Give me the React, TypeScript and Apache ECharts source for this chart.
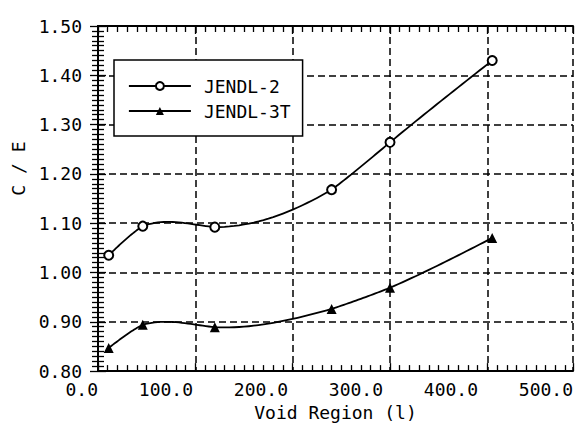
import React, { useEffect, useRef } from "react";
import * as echarts from "echarts";

// Void region volume (litres) at each measured point
const voidRegion = [11, 46, 120, 240, 300, 405];
// C/E values
const jendl2 = [1.035, 1.094, 1.092, 1.168, 1.264, 1.43];
const jendl3t = [0.847, 0.894, 0.889, 0.926, 0.969, 1.07];
const seriesNames = ["JENDL-2", "JENDL-3T"];

const FONT = "DejaVu Sans Mono";
const BLACK = "#000";
const FS = 18;
const TENSION = 0.7; // 1 = natural cubic spline, 0 = straight segments

// Cubic spline (natural, slightly tensioned) through pixel points, sampled for drawing
function splinePath(pts: number[][], steps = 24): number[][] {
  const n = pts.length;
  if (n < 3) return pts;
  const x = pts.map((p) => p[0]);
  const y = pts.map((p) => p[1]);
  const h: number[] = [];
  for (let i = 0; i < n - 1; i++) h.push(x[i + 1] - x[i]);
  const m = n - 2;
  const a: number[] = [], b: number[] = [], c: number[] = [], d: number[] = [];
  for (let i = 1; i <= m; i++) {
    a.push(h[i - 1]);
    b.push(2 * (h[i - 1] + h[i]));
    c.push(h[i]);
    d.push(6 * ((y[i + 1] - y[i]) / h[i] - (y[i] - y[i - 1]) / h[i - 1]));
  }
  for (let i = 1; i < m; i++) {
    const w = a[i] / b[i - 1];
    b[i] -= w * c[i - 1];
    d[i] -= w * d[i - 1];
  }
  const Mi: number[] = new Array(m).fill(0);
  Mi[m - 1] = d[m - 1] / b[m - 1];
  for (let i = m - 2; i >= 0; i--) Mi[i] = (d[i] - c[i] * Mi[i + 1]) / b[i];
  const M = [0, ...Mi, 0].map((v) => v * TENSION);
  const out: number[][] = [];
  for (let i = 0; i < n - 1; i++) {
    for (let s = 0; s < steps; s++) {
      const t = x[i] + (h[i] * s) / steps;
      const A = x[i + 1] - t;
      const B = t - x[i];
      const v =
        (M[i] * A * A * A) / (6 * h[i]) +
        (M[i + 1] * B * B * B) / (6 * h[i]) +
        (y[i] / h[i] - (M[i] * h[i]) / 6) * A +
        (y[i + 1] / h[i] - (M[i + 1] * h[i]) / 6) * B;
      out.push([t, v]);
    }
  }
  out.push([x[n - 1], y[n - 1]]);
  return out;
}

function curveSeries(values: number[]) {
  return {
    type: "custom",
    coordinateSystem: "cartesian2d",
    xAxisIndex: 0,
    yAxisIndex: 0,
    silent: true,
    z: 4,
    data: voidRegion.map((x, i) => [x, values[i]]),
    encode: { x: 0, y: 1 },
    renderItem: (params: any, api: any) => {
      if (params.dataIndex !== 0) return null;
      const px = voidRegion.map((x, i) => api.coord([x, values[i]]));
      return {
        type: "polyline",
        shape: { points: splinePath(px) },
        style: { stroke: BLACK, lineWidth: 1.8, fill: null },
      };
    },
  };
}

export default function App() {
  const ref = useRef<HTMLDivElement>(null);
  useEffect(() => {
    if (!ref.current) return;
    const chart = echarts.init(ref.current, undefined, { renderer: "svg" });
    const frameLine = { show: true, lineStyle: { color: BLACK, width: 2 } };
    const tick = { show: true, inside: true, length: 8, lineStyle: { color: BLACK, width: 1.3 } };
    const minor = { show: true, splitNumber: 10, length: 6, lineStyle: { color: BLACK, width: 1.3 } };
    const dashed = { show: true, lineStyle: { color: BLACK, width: 1.5, type: [7, 4] as any } };
    const option: any = {
      animation: false,
      backgroundColor: "#fff",
      grid: { left: 98, top: 26, right: 7, bottom: 45, containLabel: false },
      legend: {
        left: 114,
        top: 60,
        orient: "vertical",
        data: seriesNames,
        backgroundColor: "#fff",
        borderColor: BLACK,
        borderWidth: 1.5,
        borderRadius: 0,
        padding: [17, 12, 16, 14],
        itemWidth: 62,
        itemHeight: 10,
        itemGap: 7,
        lineStyle: { color: BLACK, width: 1.8, opacity: 1 },
        textStyle: { fontFamily: FONT, fontSize: FS, color: BLACK, lineHeight: 16, padding: [0, 0, 0, 8] },
      },
      xAxis: [
        {
          type: "value",
          position: "bottom",
          min: 0,
          max: 488,
          interval: 100,
          axisLine: frameLine,
          axisTick: tick,
          minorTick: minor,
          splitLine: dashed,
          axisLabel: { show: false },
        },
        {
          type: "value",
          position: "bottom",
          min: 0,
          max: 500,
          interval: 100,
          axisLine: { show: false },
          axisTick: { show: false },
          splitLine: { show: false },
          axisLabel: {
            show: true,
            align: "right",
            margin: 10,
            fontFamily: FONT,
            fontSize: FS,
            lineHeight: 16,
            color: BLACK,
            formatter: (v: number) => v.toFixed(1),
          },
          name: "Void Region (l)",
          nameLocation: "middle",
          nameGap: 31,
          nameTextStyle: { fontFamily: FONT, fontSize: FS, lineHeight: 18, color: BLACK },
        },
        {
          type: "value",
          position: "top",
          min: 0,
          max: 488,
          interval: 100,
          axisLine: frameLine,
          axisTick: tick,
          minorTick: minor,
          splitLine: { show: false },
          axisLabel: { show: false },
        },
      ],
      yAxis: [
        {
          type: "value",
          position: "left",
          min: 0.8,
          max: 1.5,
          interval: 0.1,
          axisLine: frameLine,
          axisTick: tick,
          minorTick: minor,
          splitLine: dashed,
          axisLabel: {
            show: true,
            margin: 16,
            fontFamily: FONT,
            fontSize: FS,
            lineHeight: 16,
            padding: [0, 0, 8, 0],
            color: BLACK,
            formatter: (v: number) => v.toFixed(2),
          },
          name: "C / E",
          nameLocation: "middle",
          nameGap: 66,
          nameTextStyle: { fontFamily: FONT, fontSize: FS, lineHeight: 18, color: BLACK, padding: [0, 0, 0, 60] },
        },
        {
          type: "value",
          position: "right",
          min: 0.8,
          max: 1.5,
          interval: 0.1,
          axisLine: frameLine,
          axisTick: tick,
          minorTick: minor,
          splitLine: { show: false },
          axisLabel: { show: false },
        },
      ],
      series: [
        curveSeries(jendl2),
        curveSeries(jendl3t),
        {
          name: seriesNames[0],
          type: "line",
          xAxisIndex: 0,
          yAxisIndex: 0,
          data: voidRegion.map((x, i) => [x, jendl2[i]]),
          symbol: "emptyCircle",
          symbolSize: 9,
          lineStyle: { color: BLACK, width: 0 },
          itemStyle: { color: BLACK, borderColor: BLACK, borderWidth: 1.5 },
          z: 5,
        },
        {
          name: seriesNames[1],
          type: "line",
          xAxisIndex: 0,
          yAxisIndex: 0,
          data: voidRegion.map((x, i) => [x, jendl3t[i]]),
          symbol: "triangle",
          symbolSize: 10,
          lineStyle: { color: BLACK, width: 0 },
          itemStyle: { color: BLACK, borderColor: BLACK, borderWidth: 0 },
          z: 5,
        },
      ],
    };
    chart.setOption(option);
    return () => chart.dispose();
  }, []);
  return (
    <div
      ref={ref}
      style={{ position: "absolute", left: 0, top: 0, width: 580, height: 426, background: "#fff" }}
    />
  );
}
